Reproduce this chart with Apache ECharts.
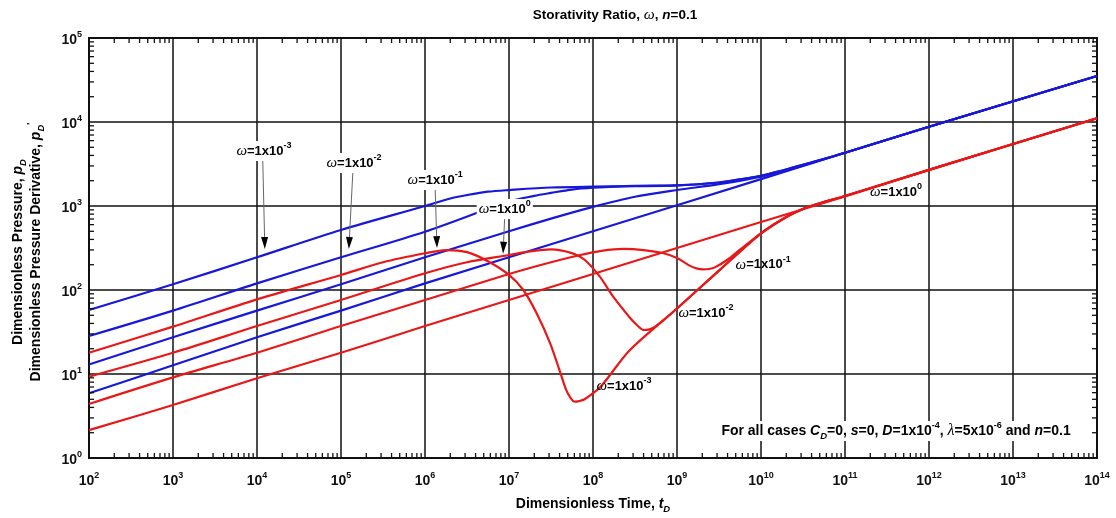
<!DOCTYPE html>
<html><head><meta charset="utf-8">
<script src="https://cdn.jsdelivr.net/npm/echarts@6/dist/echarts.min.js"></script>
<style>html,body{margin:0;padding:0;background:#fff}#c{width:1116px;height:518px}</style>
</head><body><div id="c"></div>
<script>
// ---------- data ----------
// Dimensionless pressure pD (blue)
const tB3 = [1e2,1e3,1e4,1e5,1e6,2e6,3.16e6,5.6e6,1e7,3.16e7,1e8,3.16e8,1e9,3.16e9,5.6e9,1e10,1.8e10,3.16e10,1e11,1e12,1e14];
const pB3 = [57.8,117,245,518,1000,1230,1349,1480,1549,1660,1698,1718,1758,1905,2070,2291,2650,3090,4300,8790,35300];
const tB2 = [1e2,1e3,1e4,1e5,1e6,1e7,2e7,3.16e7,5.6e7,1e8,3.16e8,1e9,3.16e9,5.6e9,1e10,1.8e10,3.16e10,1e11,1e12,1e14];
const pB2 = [28.3,56.8,120,245,494,1130,1320,1430,1570,1650,1738,1758,1905,2070,2291,2650,3090,4300,8790,35300];
const tB1 = [1e2,1e3,1e4,1e5,1e6,1e7,3.16e7,1e8,3.16e8,1e9,3.16e9,1e10,3.16e10,1e11,1e12,1e14];
const pB1 = [13.0,27.4,56.8,117,245,501,708,977,1288,1549,1820,2239,3020,4300,8790,35300];
const tB0 = [1e2,1e3,1e4,1e5,1e6,1e8,1e10,1e11,1e12,1e14];
const pB0 = [5.89,12.7,27.4,56.8,120,501,2090,4300,8790,35300];
// Dimensionless pressure derivative pD' (red)
const tR3 = [1e2,1e3,1e4,1e5,3.16e5,1e6,1.78e6,3.16e6,5.75e6,1e7,1.48e7,2.14e7,3.09e7,3.98e7,4.79e7,5.4e7,6.03e7,6.8e7,7.94e7,1.23e8,2.75e8,1e9,3.16e9,1e10,2e10,3.2e10,4.57e10,1e11,1e12,1e14];
const pR3 = [17.9,36.6,77.4,151,214,274,299,282,217,151,100,52.5,23.2,11.2,6.46,5.2,4.68,4.75,5.01,7.06,19.3,60.3,170,473,741,930,1047,1318,2690,11070];
const tR2 = [1e2,1e3,1e4,1e5,1e6,3.16e6,1e7,1.78e7,3.16e7,5.62e7,7.94e7,1.2e8,1.74e8,2.75e8,3.4e8,3.98e8,4.7e8,5.62e8,1e9,3.16e9,1e10,2e10,3.2e10,4.57e10,1e11,1e12,1e14];
const pR2 = [9.29,17.9,37.2,76.0,158,214,261,288,305,275,229,145,83.2,46.8,37.5,33.4,34.0,37.2,60.3,170,473,741,930,1047,1318,2690,11070];
const tR1 = [1e2,1e3,1e4,1e5,1e6,1e7,3.16e7,7.08e7,1.26e8,2.29e8,3.98e8,6.92e8,1e9,1.41e9,1.7e9,2.04e9,2.4e9,2.82e9,3.98e9,5.62e9,1e10,2e10,3.2e10,4.57e10,1e11,1e12,1e14];
const pR1 = [4.40,9.12,17.9,37.2,76.0,155,214,261,292,308,299,274,240,195,181,176,178,186,229,302,473,741,930,1047,1318,2690,11070];
const tR0 = [1e2,1e3,1e4,1e5,1e6,1e8,1e10,1e11,1e12,1e14];
const pR0 = [2.15,4.28,8.89,17.9,37.2,155,646,1300,2690,11070];

// annotation anchors (data coordinates)
const leftLabels = [
  {e:'-3', t:1.21e4, p:4520, t0:1.17e4, p0:3630, t1:1.24e4, p1:308},
  {e:'-2', t:1.43e5, p:3250, t0:1.39e5, p0:2760, t1:1.24e5, p1:308},
  {e:'-1', t:1.32e6, p:2040, t0:1.32e6, p0:1638, t1:1.39e6, p1:316},
  {e:'0',  t:8.9e6,  p:921,  t0:8.9e6,  p0:760,  t1:8.5e6,  p1:270}
];
const rightLabels = [
  {e:'0',  t:4.05e11, p:1468},
  {e:'-1', t:1.06e10, p:199},
  {e:'-2', t:2.21e9,  p:53.2},
  {e:'-3', t:2.34e8,  p:7.2}
];

// ---------- chart ----------
const FONT = '"Liberation Sans", Arial, sans-serif';
const BLUE = '#1818d8', RED = '#e81818', INK = '#111';
function mkRich(fs) {
  return {
    b: {fontFamily: FONT, fontWeight: 'bold', fontSize: fs, color: INK, lineHeight: 20, verticalAlign: 'middle'},
    bb: {fontFamily: FONT, fontWeight: 'bold', fontSize: 14, color: INK, lineHeight: 20, verticalAlign: 'middle'},
    s: {fontFamily: FONT, fontWeight: 'bold', fontSize: 9, color: INK, lineHeight: 10, verticalAlign: 'top'},
    sub: {fontFamily: FONT, fontWeight: 'bold', fontStyle: 'italic', fontSize: 9.5, color: INK, lineHeight: 10, verticalAlign: 'bottom'},
    w: {fontFamily: '"Liberation Serif", serif', fontStyle: 'italic', fontSize: fs + 2, color: INK, lineHeight: 20, verticalAlign: 'middle'},
    i: {fontFamily: FONT, fontWeight: 'bold', fontStyle: 'italic', fontSize: fs, color: INK, lineHeight: 20, verticalAlign: 'middle'}
  };
}
const rich = mkRich(13), richL = mkRich(14), richT = mkRich(13.5);

function pairs(t, p) { return t.map((v, i) => [v, p[i]]); }
function line(name, t, p, color) {
  return {name, type: 'line', data: pairs(t, p), showSymbol: false, smooth: 0.3,
    lineStyle: {color, width: 2.2, join: 'round'}, itemStyle: {color}, z: 3, silent: true, animation: false};
}

const chart = echarts.init(document.getElementById('c'), null, {renderer: 'canvas'});
chart.setOption({
  animation: false,
  backgroundColor: '#fff',
  grid: {left: 89, right: 19, top: 38, bottom: 60, show: true, borderColor: INK, borderWidth: 2, backgroundColor: 'transparent', containLabel: false},
  xAxis: {
    type: 'log', logBase: 10, min: 1e2, max: 1e14, interval: 1,
    axisLine: {show: false}, axisTick: {show: false},
    splitLine: {show: true, lineStyle: {color: INK, width: 1.5}},
    axisLabel: {margin: 13, formatter: v => '{bb|10}{s|' + Math.round(Math.log10(v)) + '}', rich: rich}
  },
  yAxis: {
    type: 'log', logBase: 10, min: 1, max: 1e5, interval: 1,
    axisLine: {show: false}, axisTick: {show: false},
    splitLine: {show: true, lineStyle: {color: INK, width: 1.5}},
    axisLabel: {margin: 7, padding: [5, 0, 0, 0], formatter: v => '{bb|10}{s|' + Math.round(Math.log10(v)) + '}', rich: rich}
  },
  series: [
    line('pD w=1e-3', tB3, pB3, BLUE),
    line('pD w=1e-2', tB2, pB2, BLUE),
    line('pD w=1e-1', tB1, pB1, BLUE),
    line('pD w=1', tB0, pB0, BLUE),
    line("pD' w=1e-3", tR3, pR3, RED),
    line("pD' w=1e-2", tR2, pR2, RED),
    line("pD' w=1e-1", tR1, pR1, RED),
    line("pD' w=1", tR0, pR0, RED)
  ]
});

function px(t, p) { return chart.convertToPixel({xAxisIndex: 0, yAxisIndex: 0}, [t, p]); }
const g = [];
// minor ticks
const x0 = px(1e2, 1)[0], x1 = px(1e14, 1)[0], yb = px(1e2, 1)[1], yt = px(1e2, 1e5)[1];
const TL = 5;
for (let d = 2; d < 14; d++) for (let k = 2; k <= 9; k++) {
  const x = px(k * Math.pow(10, d), 1)[0];
  g.push({type: 'line', shape: {x1: x, y1: yb, x2: x, y2: yb - TL}, style: {stroke: INK, lineWidth: 1.3}, silent: true, z: 10});
  g.push({type: 'line', shape: {x1: x, y1: yt, x2: x, y2: yt + TL}, style: {stroke: INK, lineWidth: 1.3}, silent: true, z: 10});
}
for (let d = 0; d < 5; d++) for (let k = 2; k <= 9; k++) {
  const y = px(1e2, k * Math.pow(10, d))[1];
  g.push({type: 'line', shape: {x1: x0, y1: y, x2: x0 + TL, y2: y}, style: {stroke: INK, lineWidth: 1.3}, silent: true, z: 10});
  g.push({type: 'line', shape: {x1: x1, y1: y, x2: x1 - TL, y2: y}, style: {stroke: INK, lineWidth: 1.3}, silent: true, z: 10});
}
function omegaText(e) { return '{w|ω}{b|=1x10}{s|' + e + '}'; }
// left labels with arrows
leftLabels.forEach(a => {
  const c = px(a.t, a.p), s0 = px(a.t0, a.p0), s1 = px(a.t1, a.p1);
  const dx = s1[0] - s0[0], dy = s1[1] - s0[1], L = Math.hypot(dx, dy), ux = dx / L, uy = dy / L;
  const hl = 12, hw = 3.5;
  const bx = s1[0] - ux * hl, by = s1[1] - uy * hl;
  g.push({type: 'line', shape: {x1: s0[0], y1: s0[1], x2: bx, y2: by}, style: {stroke: '#666', lineWidth: 1}, z: 20, silent: true});
  g.push({type: 'polygon', shape: {points: [[s1[0], s1[1]], [bx - uy * hw, by + ux * hw], [bx + uy * hw, by - ux * hw]]}, style: {fill: '#000'}, z: 20, silent: true});
  g.push({type: 'text', x: c[0], y: c[1], z: 21, silent: true,
    style: {text: omegaText(a.e), rich: rich, align: 'center', verticalAlign: 'middle', backgroundColor: '#fff', padding: [0, 2]}});
});
rightLabels.forEach(a => {
  const c = px(a.t, a.p);
  g.push({type: 'text', x: c[0], y: c[1], z: 21, silent: true,
    style: {text: omegaText(a.e), rich: rich, align: 'center', verticalAlign: 'middle'}});
});
// note
const nc = px(4.05e11, 2.1);
g.push({type: 'text', x: nc[0], y: nc[1], z: 21, silent: true, style: {
  text: '{b|For all cases }{i|C}{sub|D}{b|=0, }{i|s}{b|=0, }{i|D}{b|=1x10}{s|-4}{b|, }{w|λ}{b|=5x10}{s|-6}{b| and }{i|n}{b|=0.1}',
  rich: richL, align: 'center', verticalAlign: 'middle', backgroundColor: '#fff', padding: [0, 3]}});
// title
g.push({type: 'text', x: 615, y: 15, silent: true, style: {
  text: '{b|Storativity Ratio, }{w|ω}{b|, }{i|n}{b|=0.1}', rich: richT, align: 'center', verticalAlign: 'middle'}});
// x axis name
g.push({type: 'text', x: (x0 + x1) / 2, y: 504, silent: true, style: {
  text: '{b|Dimensionless Time, }{i|t}{sub|D}', rich: richL, align: 'center', verticalAlign: 'middle'}});
// y axis names
const ym = (yb + yt) / 2 + 4;
g.push({type: 'text', x: 18, y: ym, rotation: Math.PI / 2, silent: true, style: {
  text: '{b|Dimensionless Pressure, }{i|p}{sub|D}', rich: richL, align: 'center', verticalAlign: 'middle'}});
g.push({type: 'text', x: 36, y: ym, rotation: Math.PI / 2, silent: true, style: {
  text: "{b|Dimensionless Pressure Derivative, }{i|p}{sub|D}{s|'}", rich: richL, align: 'center', verticalAlign: 'middle'}});
chart.setOption({graphic: g});
</script></body></html>
